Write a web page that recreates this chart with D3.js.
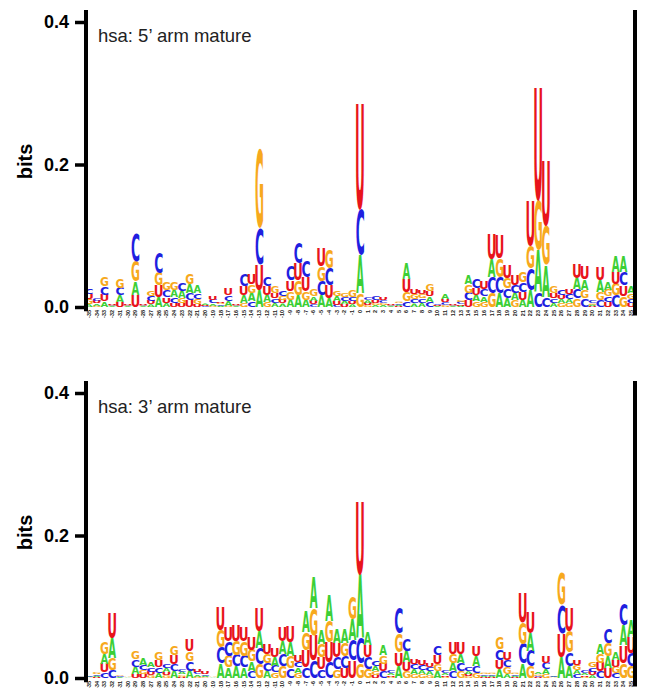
<!DOCTYPE html>
<html>
<head>
<meta charset="utf-8">
<title>hsa mature arm logos</title>
<style>
  body { margin: 0; background: #fff; }
  .ytick text { font-family: "Liberation Sans", Arial, sans-serif; font-weight: bold; font-size: 18px; }
  .xtick text { font-family: "Liberation Sans", Arial, sans-serif; font-weight: bold; font-size: 5.5px; fill: #222; }
  .title { font-family: "Liberation Sans", Arial, sans-serif; font-size: 18.5px; fill: #222; }
  .ylabel { font-family: "Liberation Sans", Arial, sans-serif; font-weight: bold; font-size: 20px; }
</style>
<script src="https://d3js.org/d3.v7.min.js"></script>
</head>
<body>
<svg width="645" height="688"></svg>
<script>
// positions along the mature arm
var positions = [-35,-34,-33,-32,-31,-30,-29,-28,-27,-26,-25,-24,-23,-22,-21,-20,-19,-18,-17,-16,
  -15,-14,-13,-12,-11,-10,-9,-8,-7,-6,-5,-4,-3,-2,-1,0,1,2,3,4,5,6,7,8,9,10,11,12,13,14,
  15,16,17,18,19,20,21,22,23,24,25,26,27,28,29,30,31,32,33,34,35];
var letters = ["A", "C", "G", "U"];
var yTicks = [0, 0.2, 0.4];

// 5' arm, bits per letter
var arm5A = [.004,.003,.008,.001,.009,.001,.019,.001,.004,.014,
  .006,.010,.010,.013,.011,.002,.003,.002,.007,.001,
  .010,.012,.024,.010,.006,.005,.010,.017,.010,.006,
  .016,.012,.008,.005,.004,.054,.004,.003,.003,.001,
  .002,.022,.005,.006,.008,.001,.008,.001,.002,.013,
  .009,.008,.025,.020,.012,.010,.010,.024,.060,.045,
  .006,.006,.006,.016,.015,.002,.017,.011,.022,.022,.009];
var arm5C = [.008,.004,.012,.001,.011,.001,.040,.001,.007,.028,
  .010,.008,.011,.010,.008,.001,.005,.002,.008,.001,
  .016,.008,.052,.014,.006,.008,.020,.028,.022,.004,
  .020,.024,.003,.005,.006,.064,.004,.005,.004,.001,
  .002,.008,.006,.006,.007,.002,.004,.001,.003,.011,
  .013,.010,.022,.022,.014,.012,.014,.030,.020,.014,
  .006,.007,.007,.013,.012,.003,.010,.008,.016,.019,.006];
var arm5G = [.007,.002,.014,.001,.013,.001,.028,.001,.008,.018,
  .011,.011,.007,.015,.007,.001,.002,.002,.002,.001,
  .006,.012,.113,.007,.010,.006,.012,.020,.012,.009,
  .021,.026,.008,.005,.010,.019,.003,.003,.003,.001,
  .002,.013,.007,.006,.010,.001,.003,.001,.003,.012,
  .008,.007,.020,.026,.015,.009,.015,.032,.070,.055,
  .009,.005,.005,.012,.012,.002,.011,.009,.016,.015,.008];
var arm5U = [.007,.003,.009,.002,.007,.001,.017,.001,.005,.016,
  .008,.006,.005,.009,.004,.001,.006,.002,.009,.001,
  .013,.015,.035,.012,.008,.005,.015,.025,.020,.005,
  .026,.018,.005,.004,.004,.150,.003,.004,.004,.001,
  .001,.018,.008,.006,.008,.001,.004,.001,.002,.009,
  .010,.011,.035,.034,.018,.014,.011,.063,.160,.092,
  .007,.006,.008,.020,.018,.001,.019,.007,.017,.015,.005];

// 3' arm, bits per letter
var arm3A = [.001,.002,.014,.028,.001,.0005,.010,.009,.007,.007,
  .006,.010,.004,.010,.003,.002,.0005,.021,.015,.016,
  .015,.013,.024,.010,.012,.018,.020,.008,.030,.045,
  .020,.036,.021,.020,.030,.090,.018,.007,.014,.003,
  .017,.016,.007,.006,.006,.009,.003,.012,.013,.004,
  .014,.002,.002,.012,.006,.002,.020,.025,.003,.007,
  .001,.029,.017,.006,.003,.004,.014,.017,.011,.028,.024];
var arm3C = [.001,.002,.008,.011,.001,.0005,.010,.007,.006,.008,
  .006,.010,.004,.013,.003,.002,.0005,.022,.020,.016,
  .016,.010,.022,.011,.009,.017,.014,.008,.015,.025,
  .012,.022,.017,.017,.028,.035,.016,.008,.009,.003,
  .035,.017,.007,.007,.006,.014,.003,.009,.011,.005,
  .010,.002,.002,.015,.010,.002,.028,.022,.002,.009,
  .001,.040,.019,.005,.003,.006,.009,.020,.007,.030,.019];
var arm3G = [.0005,.003,.016,.016,.001,.0005,.011,.006,.004,.011,
  .004,.014,.003,.014,.002,.001,.0005,.024,.016,.020,
  .020,.016,.020,.013,.008,.016,.016,.007,.025,.037,
  .018,.030,.012,.018,.033,.020,.013,.006,.012,.002,
  .026,.010,.005,.005,.004,.010,.002,.013,.010,.003,
  .007,.002,.002,.017,.009,.002,.030,.016,.002,.005,
  .0005,.046,.030,.007,.002,.007,.013,.018,.009,.021,.016];
var arm3U = [.0005,.001,.012,.035,.0005,.0005,.006,.005,.005,.010,
  .004,.012,.002,.016,.003,.003,.0005,.033,.021,.022,
  .021,.018,.034,.014,.013,.020,.022,.009,.024,.035,
  .017,.028,.020,.014,.025,.103,.017,.004,.011,.002,
  .019,.012,.008,.007,.006,.013,.002,.016,.016,.003,
  .015,.001,.001,.013,.011,.001,.042,.030,.001,.009,
  .0005,.034,.034,.007,.002,.005,.012,.014,.009,.025,.022];

var color = d3.scaleOrdinal()
    .domain(letters)
    .range(["#3ccf35", "#1f1fe0", "#f7a91d", "#e8141b"]);

var glyphFont = "'DejaVu Sans', 'Liberation Sans', Arial, sans-serif";

var svg = d3.select("svg");

// ink box of each glyph, so letters can be stretched to fill a cell
var ctx = document.createElement("canvas").getContext("2d");
ctx.font = "bold 100px " + glyphFont;
var ink = {};
letters.forEach(function(l) {
  var m = ctx.measureText(l);
  ink[l] = {left: m.actualBoundingBoxLeft, asc: m.actualBoundingBoxAscent,
            w: m.actualBoundingBoxLeft + m.actualBoundingBoxRight,
            h: m.actualBoundingBoxAscent + m.actualBoundingBoxDescent};
});

var x = d3.scaleBand().domain(positions).range([85, 635]).padding(0);

var panels = [
  {title: "hsa: 5\u2019 arm mature", A: arm5A, C: arm5C, G: arm5G, U: arm5U, top: 22, bottom: 307},
  {title: "hsa: 3\u2019 arm mature", A: arm3A, C: arm3C, G: arm3G, U: arm3U, top: 393, bottom: 678}
];

panels.forEach(function(p) {
  var y = d3.scaleLinear().domain([0, 0.4]).range([p.bottom, p.top]);
  var g = svg.append("g");

  // stacks: smallest letter at the bottom, largest on top
  var cols = positions.map(function(pos, i) {
    var items = letters.map(function(l) { return {letter: l, bits: p[l][i]}; });
    items.sort(function(a, b) { return a.bits - b.bits; });
    var base = 0;
    items.forEach(function(d) { d.y0 = base; base += d.bits; d.y1 = base; d.pos = pos; });
    return items;
  });

  var bw = x.bandwidth();
  g.selectAll(".col")
    .data(cols)
    .enter().append("g")
      .attr("class", "col")
    .selectAll("text")
    .data(function(d) { return d; })
    .enter().append("text")
      .attr("font-family", glyphFont)
      .attr("font-weight", "bold")
      .attr("font-size", 100)
      .attr("fill", function(d) { return color(d.letter); })
      .attr("transform", function(d) {
        var k = ink[d.letter];
        var h = y(d.y0) - y(d.y1);
        var x0 = x(d.pos) + (x.bandwidth() - bw) / 2;
        return "translate(" + x0 + "," + y(d.y1) + ") scale(" + (bw / k.w) + "," + (h / k.h) + ") translate(" + k.left + "," + k.asc + ")";
      })
      .text(function(d) { return d.letter; });

  // y axis
  var ya = g.append("g")
      .attr("class", "ytick")
      .attr("transform", "translate(86,0)")
      .call(d3.axisLeft(y).tickValues(yTicks).tickFormat(d3.format(".1f")).tickSize(11).tickPadding(6));
  ya.select(".domain").remove();
  ya.selectAll("line").attr("stroke-width", 3.5);

  g.append("line")
      .attr("x1", 86).attr("x2", 86)
      .attr("y1", y(0.417)).attr("y2", y(-0.006))
      .attr("stroke", "#000").attr("stroke-width", 4);
  g.append("line")
      .attr("x1", 635).attr("x2", 635)
      .attr("y1", y(0.417)).attr("y2", y(-0.012))
      .attr("stroke", "#000").attr("stroke-width", 4);

  // position labels
  var xa = g.append("g")
      .attr("class", "xtick")
      .attr("transform", "translate(0," + (p.bottom + 3) + ")")
      .call(d3.axisBottom(x).tickSize(0).tickPadding(0));
  xa.select(".domain").remove();
  xa.selectAll("text")
      .attr("transform", "rotate(-90)")
      .attr("text-anchor", "end")
      .attr("dy", "0.35em")
      .attr("y", 0);

  g.append("text")
      .attr("class", "ylabel")
      .attr("transform", "translate(32," + (y(0.2) - 3) + ") rotate(-90)")
      .attr("text-anchor", "middle")
      .text("bits");

  g.append("text")
      .attr("class", "title")
      .attr("x", 98)
      .attr("y", y(0.4) + 20)
      .text(p.title);
});
</script>
</body>
</html>
